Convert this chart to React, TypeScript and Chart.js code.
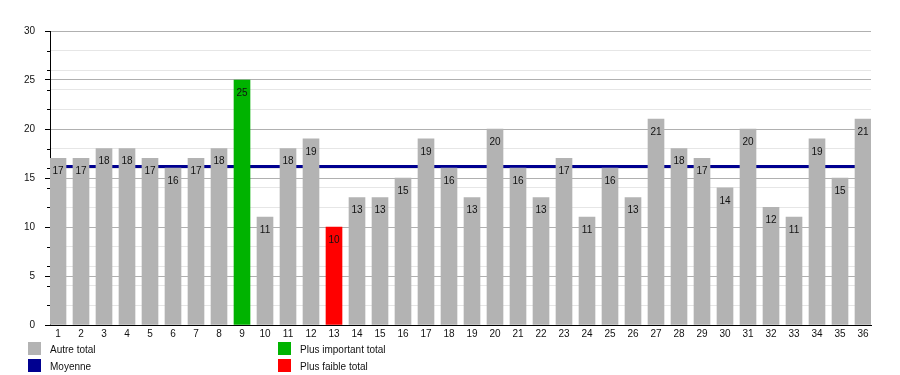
import React, { useEffect, useRef } from 'react';
import { Chart, registerables } from 'chart.js';

Chart.register(...registerables);

const categories = ['1','2','3','4','5','6','7','8','9','10','11','12','13','14','15','16','17','18','19','20','21','22','23','24','25','26','27','28','29','30','31','32','33','34','35','36'];
const totals = [17,17,18,18,17,16,17,18,25,11,18,19,10,13,13,15,19,16,13,20,16,13,17,11,16,13,21,18,17,14,20,12,11,19,15,21];
const yMin = 0;
const yMax = 30;
const yMajorStep = 5;
const yMinorStep = 2;
const legendLabels = ['Autre total', 'Moyenne', 'Plus important total', 'Plus faible total'];

const GRAY = '#b3b3b3';
const GREEN = '#00b300';
const RED = '#ff0000';
const NAVY = '#000090';
const FONT = '"Liberation Sans", Arial, sans-serif';
const BAR_W = 16;
const SLOT = 23;

export default function App() {
  const ref = useRef<HTMLCanvasElement | null>(null);

  useEffect(() => {
    const canvas = ref.current;
    if (!canvas) return;
    const maxV = Math.max(...totals);
    const minV = Math.min(...totals);
    const mean = totals.reduce((a, b) => a + b, 0) / totals.length;
    const colors = totals.map((v) => (v === maxV ? GREEN : v === minV ? RED : GRAY));
    const halfBar = (BAR_W / 2) / SLOT;

    const meanLine = {
      id: 'meanLine',
      beforeDatasetsDraw(chart: any) {
        const { ctx, chartArea, scales } = chart;
        const y = Math.round(scales.y.getPixelForValue(mean)) + 0.5;
        ctx.save();
        ctx.strokeStyle = NAVY;
        ctx.lineWidth = 3;
        ctx.beginPath();
        ctx.moveTo(chartArea.left, y);
        ctx.lineTo(chartArea.right, y);
        ctx.stroke();
        ctx.restore();
      },
    };

    const minorTicks = {
      id: 'minorTicks',
      afterDraw(chart: any) {
        const { ctx, chartArea, scales } = chart;
        ctx.save();
        ctx.strokeStyle = '#000';
        ctx.lineWidth = 1;
        for (let v = yMin; v <= yMax; v += yMinorStep) {
          if (v % yMajorStep === 0) continue;
          const y = Math.round(scales.y.getPixelForValue(v)) + 0.5;
          ctx.beginPath();
          ctx.moveTo(chartArea.left - 3, y);
          ctx.lineTo(chartArea.left, y);
          ctx.stroke();
        }
        ctx.restore();
      },
    };

    const valueLabels = {
      id: 'valueLabels',
      afterDatasetsDraw(chart: any) {
        const { ctx } = chart;
        const meta = chart.getDatasetMeta(0);
        ctx.save();
        ctx.font = `10px ${FONT}`;
        ctx.fillStyle = '#111';
        ctx.textAlign = 'center';
        ctx.textBaseline = 'middle';
        meta.data.forEach((el: any, i: number) => {
          ctx.fillText(String(totals[i]), el.x, el.y + 13);
        });
        ctx.restore();
      },
    };

    const chart = new Chart(canvas, {
      type: 'bar',
      data: {
        datasets: [
          {
            label: legendLabels[0],
            data: totals.map((v, i) => ({ x: i + 1, y: v })),
            backgroundColor: colors,
            borderWidth: 0,
            barThickness: BAR_W,
          },
        ],
      },
      options: {
        responsive: false,
        animation: false,
        layout: { padding: { top: 31, right: 29, left: 0, bottom: 0 } },
        plugins: { legend: { display: false }, tooltip: { enabled: false } },
        scales: {
          x: {
            type: 'linear',
            offset: false,
            min: 1 - halfBar,
            max: categories.length + halfBar,
            afterBuildTicks: (scale: any) => {
              scale.ticks = categories.map((_, i) => ({ value: i + 1 }));
            },
            afterFit: (scale: any) => {
              scale.height = 50;
            },
            ticks: {
              autoSkip: false,
              maxRotation: 0,
              padding: 3,
              color: '#111',
              font: { family: FONT, size: 10 },
              callback: (v: any) => categories[Number(v) - 1] ?? '',
            },
            grid: { display: false, drawTicks: false },
            border: { display: true, color: '#000', width: 1 },
          },
          y: {
            min: yMin,
            max: yMax,
            afterFit: (scale: any) => {
              scale.width = 50;
            },
            ticks: {
              stepSize: 1,
              autoSkip: false,
              padding: 10,
              color: '#111',
              font: { family: FONT, size: 10 },
              callback: (v: any) => (Number(v) % yMajorStep === 0 ? String(v) : ''),
            },
            grid: {
              tickLength: 5,
              color: (ctx: any) => {
                const v = ctx.tick ? ctx.tick.value : 0;
                if (v % yMajorStep === 0) return '#b0b0b0';
                if (v % yMinorStep === 0) return '#e6e6e6';
                return 'rgba(0,0,0,0)';
              },
              tickColor: (ctx: any) => {
                const v = ctx.tick ? ctx.tick.value : 0;
                return v % yMajorStep === 0 ? '#000' : 'rgba(0,0,0,0)';
              },
            },
            border: { display: true, color: '#000', width: 1 },
          },
        },
      },
      plugins: [meanLine, valueLabels, minorTicks],
    } as any);

    return () => chart.destroy();
  }, []);

  const legendColors = [GRAY, NAVY, GREEN, RED];
  const legendPos = [
    { left: 28, top: 342 },
    { left: 28, top: 359 },
    { left: 278, top: 342 },
    { left: 278, top: 359 },
  ];

  return (
    <div style={{ position: 'fixed', left: 0, top: 0, width: 900, height: 375, background: '#fff', overflow: 'hidden' }}>
      <canvas ref={ref} width={900} height={375} style={{ position: 'absolute', left: 0, top: 0, width: 900, height: 375 }} />
      {legendLabels.map((label, i) => (
        <div key={label} style={{ position: 'absolute', left: legendPos[i].left, top: legendPos[i].top + 1, height: 13, display: 'flex', alignItems: 'center', fontFamily: FONT, fontSize: 10, color: '#111', whiteSpace: 'nowrap' }}>
          <span style={{ display: 'inline-block', width: 13, height: 13, background: legendColors[i], marginRight: 9, position: 'relative', top: -1 }} />
          <span>{label}</span>
        </div>
      ))}
    </div>
  );
}
